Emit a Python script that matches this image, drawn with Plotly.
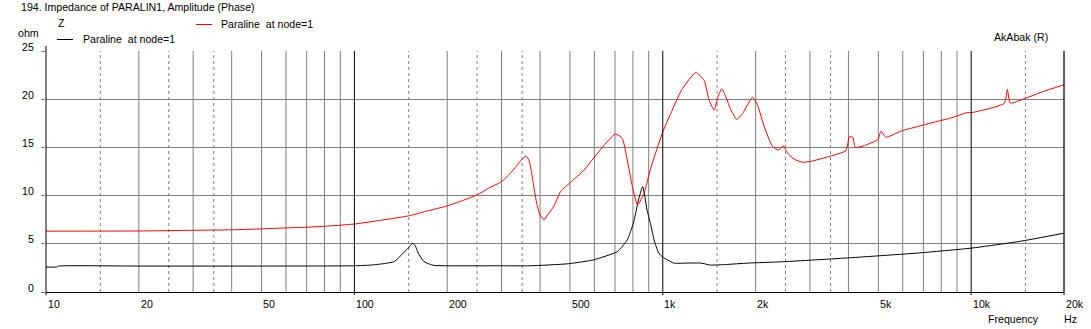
import math
import plotly.graph_objects as go

# ---------------- data ----------------
z_freq = [10, 10.8, 11, 20, 50, 80, 100, 113, 125, 135, 144, 148, 152, 155, 158, 161, 168, 175, 181,
          200, 300, 371, 494, 597, 713, 767, 803, 834, 861, 889, 914, 937, 970, 1000, 1086, 1200,
          1330, 1430, 1600, 1890, 2460, 4040, 6700, 10000, 14300, 20000]
z_ohm = [2.59, 2.59, 2.69, 2.69, 2.69, 2.70, 2.72, 2.79, 2.95, 3.17, 4.04, 4.40, 4.85, 5.07, 4.70, 4.04, 3.17, 2.90, 2.76,
         2.72, 2.72, 2.72, 2.93, 3.34, 4.20, 5.41, 7.14, 9.55, 10.93, 8.52, 6.97, 5.41, 4.04, 3.62, 3.00, 3.00,
         3.00, 2.79, 2.85, 3.00, 3.14, 3.55, 4.04, 4.55, 5.24, 6.10]

p_freq = [10, 20, 30, 40, 50, 60, 70, 80, 90, 100, 124, 150, 172, 200, 250, 272, 300, 320, 336, 350, 360,
          368, 375, 382, 390, 400, 412, 423, 443, 466, 505, 556, 597, 660, 703, 739, 767, 797, 828, 870,
          914, 1000, 1062, 1150, 1280, 1361, 1413, 1468, 1511, 1555, 1601, 1663, 1738, 1814, 1954, 2028,
          2133, 2270, 2375, 2460, 2541, 2670, 2841, 3000, 3500, 3927, 4027, 4129, 4210, 4394, 4977, 5100,
          5296, 5929, 6685, 7604, 8490, 9690, 10000, 12800, 13100, 13400, 15000, 17000, 20000]
p_val = [6.31, 6.33, 6.40, 6.45, 6.55, 6.65, 6.72, 6.82, 6.93, 7.05, 7.48, 7.90, 8.40, 8.93, 10.07, 10.76, 11.45, 12.30, 13.10, 13.80, 14.10,
         13.70, 12.50, 10.90, 9.20, 8.00, 7.48, 8.00, 8.86, 10.40, 11.45, 12.66, 13.90, 15.59, 16.39, 15.94, 13.70, 10.93, 9.04, 10.25,
         12.84, 16.60, 18.53, 20.94, 22.77, 21.97, 19.90, 18.87, 20.25, 21.10, 20.25, 18.90, 17.90, 18.50, 20.20, 19.40,
         17.15, 15.08, 14.74, 15.15, 14.40, 13.77, 13.46, 13.53, 14.10, 14.66, 16.10, 16.05, 15.00, 15.08, 15.80, 16.67,
         16.05, 16.70, 17.15, 17.63, 18.00, 18.60, 18.60, 19.57, 21.00, 19.60, 20.10, 20.76, 21.50]

x_tick_vals = [10, 20, 50, 100, 200, 500, 1000, 2000, 5000, 10000, 20000]
x_tick_text = ["10", "20", "50", "100", "200", "500", "1k", "2k", "5k", "10k", "20k"]
y_tick_vals = [0, 5, 10, 15, 20, 25]

title_text = "194. Impedance of PARALIN1, Amplitude (Phase)"
legend_text = "Paraline\u00a0 at node=1"

# ---------------- geometry ----------------
W, H = 1091, 329
ML, MR, MT, MB = 46, 27, 51, 37
PW = W - ML - MR
PH = H - MT - MB
LOG0, LOG1 = 1.0, math.log10(20000)


def px(xp):
    return (xp - ML) / PW


def py(yp):
    return (H - MB - yp) / PH


def fx(f):
    return (math.log10(f) - LOG0) / (LOG1 - LOG0)


FONT = dict(family="Liberation Sans, Arial, sans-serif", size=10.6, color="#000000")
GRAY = "#808080"

fig = go.Figure()
fig.add_trace(go.Scatter(x=z_freq, y=z_ohm, mode="lines",
                         line=dict(color="#000000", width=1, shape="spline", smoothing=0.5),
                         name="Paraline at node=1", showlegend=False, hoverinfo="skip"))
fig.add_trace(go.Scatter(x=p_freq, y=p_val, mode="lines",
                         line=dict(color="#ff0000", width=1, shape="spline", smoothing=0.5),
                         name="Paraline at node=1", showlegend=False, hoverinfo="skip"))

shapes = []
# vertical grid
for dec in [10, 100, 1000, 10000]:
    for m in [1.5, 2, 2.5, 3, 3.5, 4, 5, 6, 7, 8, 9]:
        f = dec * m
        if f > 20000:
            continue
        if m in (1.5, 2.5, 3.5):
            shapes.append(dict(type="line", xref="paper", yref="paper", x0=fx(f), x1=fx(f), y0=0, y1=1,
                               line=dict(color=GRAY, width=1, dash="3px,3px"), layer="below"))
        else:
            shapes.append(dict(type="line", xref="paper", yref="paper", x0=fx(f), x1=fx(f), y0=0, y1=1,
                               line=dict(color=GRAY, width=1), layer="below"))
for f in [10, 100, 1000, 10000, 20000]:
    y1 = 1 + 5 / PH if f == 10 else 1
    shapes.append(dict(type="line", xref="paper", yref="paper", x0=fx(f), x1=fx(f), y0=-3 / PH, y1=y1,
                       line=dict(color="#000000", width=1), layer="above"))

# legend samples
shapes.append(dict(type="line", xref="paper", yref="paper", x0=px(196), x1=px(212), y0=py(24.5), y1=py(24.5),
                   line=dict(color="#ff0000", width=1)))
shapes.append(dict(type="line", xref="paper", yref="paper", x0=px(57), x1=px(73), y0=py(39.5), y1=py(39.5),
                   line=dict(color="#000000", width=1)))

ann = []


def text(t, x, y, xa="left", ya="middle"):
    ann.append(dict(text=t, x=x, y=y, xref="paper", yref="paper", xanchor=xa, yanchor=ya,
                    showarrow=False, font=FONT))


text(title_text, px(19), py(7))
text("Z", px(56), py(23))
text("ohm", px(28), py(32.5), xa="center")
text(legend_text, px(219), py(24.5))
text(legend_text, px(81), py(39.5))
text("AkAbak (R)", px(992), py(36.5))
text("Frequency", px(986), py(318.5))
text("Hz", px(1062), py(318.5))

for f, t in zip(x_tick_vals, x_tick_text):
    text(t, fx(f) - 0.3 / PW, py(304))
for v in y_tick_vals:
    yp = H - MB - v / 25 * PH
    text(str(v), px(36), py(yp - 4.5), xa="right")

fig.update_layout(
    width=W, height=H,
    margin=dict(l=ML, r=MR, t=MT, b=MB, pad=0),
    paper_bgcolor="#ffffff", plot_bgcolor="#ffffff",
    showlegend=False,
    shapes=shapes, annotations=ann,
    font=FONT,
    xaxis=dict(type="log", range=[LOG0, LOG1], showgrid=False, showticklabels=False, ticks="",
               showline=True, linecolor="#000000", linewidth=1, zeroline=False, fixedrange=True),
    yaxis=dict(range=[0, 25], tickvals=y_tick_vals, showgrid=True, gridcolor=GRAY, gridwidth=1,
               showticklabels=False, ticks="outside", ticklen=4, tickcolor=GRAY,
               showline=False, zeroline=False, fixedrange=True),
)

fig.write_html("out.html", config={"displayModeBar": False})

# remove the browser's default page margin so the figure sits at the window origin
with open("out.html", "r", encoding="utf-8") as fh:
    html = fh.read()
html = html.replace("<head>", "<head><style>html,body{margin:0;padding:0;overflow:hidden;}</style>", 1)
with open("out.html", "w", encoding="utf-8") as fh:
    fh.write(html)
